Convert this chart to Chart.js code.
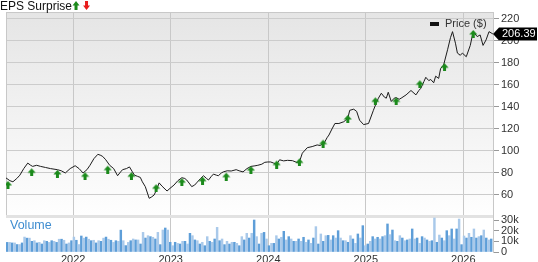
<!DOCTYPE html>
<html>
<head>
<meta charset="utf-8">
<script src="https://cdn.jsdelivr.net/npm/chart.js@4.4.1/dist/chart.umd.min.js"></script>
<style>
  html, body { margin: 0; padding: 0; background: #fff; }
  #wrap { width: 538px; height: 262px; position: relative; }
</style>
</head>
<body>
<div id="wrap"><canvas id="chartPrice"></canvas></div>
<script>
// price line, dates as decimal years
const priceDates = [2021.311, 2021.351, 2021.382, 2021.422, 2021.453, 2021.493, 2021.534, 2021.564, 2021.584, 2021.625,
  2021.665, 2021.716, 2021.767, 2021.838, 2021.878, 2021.919, 2021.969, 2022.020, 2022.060, 2022.101,
  2022.141, 2022.172, 2022.212, 2022.253, 2022.283, 2022.303, 2022.334, 2022.374, 2022.415, 2022.455,
  2022.486, 2022.506, 2022.546, 2022.577, 2022.607, 2022.628, 2022.658, 2022.688, 2022.709, 2022.739,
  2022.779, 2022.800, 2022.830, 2022.860, 2022.881, 2022.911, 2022.962, 2022.992, 2023.033, 2023.073,
  2023.114, 2023.144, 2023.164, 2023.195, 2023.215, 2023.245, 2023.265, 2023.306, 2023.336, 2023.367,
  2023.387, 2023.417, 2023.438, 2023.468, 2023.488, 2023.519, 2023.539, 2023.579, 2023.620, 2023.671,
  2023.701, 2023.741, 2023.782, 2023.822, 2023.863, 2023.893, 2023.934, 2023.964, 2023.995, 2024.025,
  2024.055, 2024.086, 2024.116, 2024.157, 2024.197, 2024.248, 2024.298, 2024.319, 2024.349, 2024.400,
  2024.450, 2024.501, 2024.531, 2024.572, 2024.602, 2024.622, 2024.653, 2024.683, 2024.724, 2024.774,
  2024.815, 2024.835, 2024.876, 2024.906, 2024.936, 2024.977, 2025.028, 2025.078, 2025.109, 2025.129,
  2025.159, 2025.190, 2025.210, 2025.230, 2025.261, 2025.291, 2025.311, 2025.342, 2025.362, 2025.413,
  2025.463, 2025.514, 2025.544, 2025.564, 2025.595, 2025.615, 2025.645, 2025.666, 2025.696, 2025.716,
  2025.747, 2025.767, 2025.797, 2025.838, 2025.868, 2025.889, 2025.919, 2025.939, 2025.969, 2025.990,
  2026.030, 2026.071, 2026.101, 2026.142, 2026.172, 2026.202, 2026.233, 2026.263, 2026.303];
const priceValues = [75.5, 73, 72, 75, 78, 84, 89, 87, 86, 87,
  86, 85, 84, 83, 82, 80, 84, 86.6, 84, 80,
  83, 87, 93, 97, 96, 95, 92, 87, 84, 77.5,
  81, 83, 84, 85.5, 81, 78, 77, 76, 72, 67.6,
  57, 58, 60, 66, 71, 68, 63.6, 66, 69, 73,
  75.7, 75, 73.6, 70, 67.6, 69, 71, 75, 77.5, 75,
  73.6, 77, 79, 78, 77.5, 80, 81, 82, 81.8, 83,
  82, 81, 84, 86, 86.5, 87, 88, 89.7, 90, 90,
  89, 88, 92, 91, 91.5, 91.2, 89.4, 90, 98, 103,
  104, 105.5, 105, 107, 112, 114.5, 120, 125, 125, 126.6,
  129.7, 137, 138, 136, 128, 124, 125, 137, 144, 148,
  152.5, 149, 148, 153.4, 145, 148, 148.5, 147, 148, 151,
  155, 151, 155, 157, 163, 167, 164, 165, 162, 168,
  166, 175, 178, 192, 203, 208.5, 198, 189, 187, 189,
  185.7, 196, 208.5, 204, 205.5, 196, 201, 208.5, 206.39];

// EPS surprise markers (all beats)
const epsDates = [2021.331, 2021.574, 2021.838, 2022.121, 2022.354, 2022.597, 2022.850, 2023.114, 2023.326, 2023.569,
  2023.822, 2024.086, 2024.319, 2024.562, 2024.815, 2025.098, 2025.311, 2025.554, 2025.807, 2026.101];
const epsValues = [75.5, 87, 85.5, 83.4, 89.4, 83.4, 72.5, 78, 79.4, 83,
  89, 94, 96, 113, 135.5, 151.5, 151.5, 167, 182.5, 212.7];

// volume in thousands, evenly spaced bars
const volumeK = [9, 9, 8.5, 8.5, 7, 7, 8.5, 14, 13, 13, 10, 10.6, 8.5, 9, 7.5, 10.6, 10, 9, 10.6, 10,
  9, 12, 12, 11, 7.5, 8.5, 10.6, 14, 11, 7, 15, 13, 14, 12, 10.6, 11, 8.5, 10.6, 10, 13,
  14, 12, 11, 9, 10.6, 10, 20.5, 10.6, 6, 9,
  10.6, 12.2, 11.3, 11.3, 7.5, 18.4, 13.1, 15.3, 14.4, 13.8, 12.2, 18.4, 6.9, 20.6, 22.5, 20.6, 9.1, 5.9, 9.1, 8.1,
  7.5, 10, 10, 7.5, 17.5, 15.3, 11.3, 10.6, 7.5, 9.1, 5.9, 14.4, 10, 9.1, 12.2, 23.1, 10.6, 12.2, 6.9, 10,
  7.5, 9.1, 9.1, 8.1, 5.9, 14.4, 11.3, 17.5, 13.1, 17.5,
  30, 14.4, 7.5, 17.5, 18.4, 12.2, 5.9, 8.1, 8.1, 15.3, 12.2, 13.8, 19.4, 11.3, 14.4, 12.2, 10, 10, 12.2, 10,
  13.8, 9.1, 11.3, 8.1, 13.1, 23.8, 7.5, 16.9, 10, 15.3, 15.6, 11.3, 15.3, 13.1, 20, 13.1, 10.6, 10.6, 9.1, 15.3,
  12.2, 8.1, 16.9, 13.1, 24.7, 5.9, 7.5, 10, 14.4, 12.2,
  13.8, 12.2, 14.4, 15.3, 26.3, 16.3, 20.6, 10.6, 10, 15.3, 13.1, 10.6, 11.3, 12.2, 21.6, 12.2, 13.1, 8.1, 14.4, 13.1,
  11.3, 10, 10.6, 31.9, 9.1, 15.9, 13.1, 10.6, 20, 15.3, 21.6, 12.2, 21.6, 30.9, 6.9, 15, 13.1, 17.5, 13.8, 21.6,
  13.1, 14.4, 15.3, 20.6, 13.1, 11.3, 12.2];
const volStart = 2021.3237;
const volStep = 0.025316;

const yearTicks = [2022, 2023, 2024, 2025, 2026];
const priceTicks = [60, 80, 100, 120, 140, 160, 180, 200, 220];
const volumeTicks = [0, 10, 20, 30];

Chart.defaults.font.family = '"Liberation Sans", Arial, sans-serif';
Chart.defaults.font.size = 11;
Chart.defaults.color = '#333';

function makeArrow(color) {
    const c = document.createElement('canvas');
    c.width = 9; c.height = 22;
    const g = c.getContext('2d');
    g.fillStyle = color;
    g.beginPath();
    g.moveTo(4.5, 14); g.lineTo(8.5, 18.5); g.lineTo(6, 18.5); g.lineTo(6, 22);
    g.lineTo(3, 22); g.lineTo(3, 18.5); g.lineTo(0.5, 18.5);
    g.closePath();
    g.fill();
    return c;
}
const upArrow = makeArrow('#1b8a1b');

function drawTitleArrow(ctx, x, top, color, up) {
    ctx.fillStyle = color;
    ctx.beginPath();
    if (up) {
        ctx.moveTo(x + 3.5, top); ctx.lineTo(x + 7, top + 4.5); ctx.lineTo(x + 5, top + 4.5);
        ctx.lineTo(x + 5, top + 9); ctx.lineTo(x + 2, top + 9); ctx.lineTo(x + 2, top + 4.5); ctx.lineTo(x, top + 4.5);
    } else {
        ctx.moveTo(x + 2, top); ctx.lineTo(x + 5, top); ctx.lineTo(x + 5, top + 4.5); ctx.lineTo(x + 7, top + 4.5);
        ctx.lineTo(x + 3.5, top + 9); ctx.lineTo(x, top + 4.5); ctx.lineTo(x + 2, top + 4.5);
    }
    ctx.closePath();
    ctx.fill();
}

const panels = {
    id: 'panels',
    beforeDraw(chart) {
        const {ctx, chartArea} = chart;
        const y = chart.scales.y;
        const grad = ctx.createLinearGradient(0, y.top, 0, y.bottom);
        grad.addColorStop(0, '#e5e5e5');
        grad.addColorStop(1, '#fefefe');
        ctx.save();
        ctx.fillStyle = grad;
        ctx.fillRect(chartArea.left, y.top, chartArea.right - chartArea.left, y.bottom - y.top);
        ctx.restore();
    },
    beforeDatasetsDraw(chart) {
        const {ctx, chartArea} = chart;
        const yv = chart.scales.yv;
        ctx.save();
        ctx.fillStyle = '#e2e2e2';
        ctx.fillRect(chartArea.left, yv.top, chartArea.right - chartArea.left, 3);
        ctx.strokeStyle = '#c8c8c8';
        ctx.lineWidth = 1;
        ctx.beginPath();
        ctx.moveTo(chartArea.left, chartArea.top + 0.5);
        ctx.lineTo(chartArea.right, chartArea.top + 0.5);
        ctx.moveTo(chartArea.left + 0.5, chartArea.top);
        ctx.lineTo(chartArea.left + 0.5, yv.top);
        ctx.stroke();
        ctx.restore();
    },
    afterDraw(chart) {
        const {ctx, chartArea} = chart;
        const y = chart.scales.y;
        const yv = chart.scales.yv;
        ctx.save();
        // title
        ctx.fillStyle = '#111';
        ctx.font = '12px "Liberation Sans", Arial, sans-serif';
        ctx.textBaseline = 'alphabetic';
        ctx.textAlign = 'left';
        ctx.fillText('EPS Surprise', 0, 10);
        const tw = ctx.measureText('EPS Surprise').width;
        drawTitleArrow(ctx, tw + 0.5, 1, '#1b8a1b', true);
        drawTitleArrow(ctx, tw + 11, 1, '#e81c1c', false);
        // volume label
        ctx.fillStyle = '#3f8dd0';
        ctx.font = '12.5px "Liberation Sans", Arial, sans-serif';
        ctx.fillText('Volume', 10, yv.top + 14);
        // legend
        ctx.fillStyle = '#111';
        ctx.fillRect(chartArea.right - 63, chartArea.top + 10, 9, 4);
        ctx.fillStyle = '#333';
        ctx.font = '11px "Liberation Sans", Arial, sans-serif';
        ctx.textBaseline = 'middle';
        ctx.fillText('Price ($)', chartArea.right - 48, chartArea.top + 12);
        // last price tag
        const last = priceValues[priceValues.length - 1];
        const py = y.getPixelForValue(last);
        ctx.fillStyle = '#000';
        ctx.beginPath();
        ctx.moveTo(chartArea.right, py);
        ctx.lineTo(chartArea.right + 6, py - 6.5);
        ctx.lineTo(chartArea.right + 44, py - 6.5);
        ctx.lineTo(chartArea.right + 44, py + 6.5);
        ctx.lineTo(chartArea.right + 6, py + 6.5);
        ctx.closePath();
        ctx.fill();
        ctx.fillStyle = '#fff';
        ctx.fillText(last.toFixed(2), chartArea.right + 9, py + 0.5);
        ctx.restore();
    }
};

const axisWidth = s => { s.width = 45; };

const ctxPrice = document.getElementById('chartPrice').getContext('2d');
const chartPrice = new Chart(ctxPrice, {
    type: 'line',
    data: {
        datasets: [{
            type: 'scatter',
            label: 'EPS',
            data: epsDates.map((d, i) => ({x: d, y: epsValues[i]})),
            pointStyle: upArrow,
            pointRadius: 5,
            xAxisID: 'x',
            yAxisID: 'y'
        }, {
            label: 'Price ($)',
            data: priceDates.map((d, i) => ({x: d, y: priceValues[i]})),
            borderColor: '#1c1c1c',
            borderWidth: 1,
            pointRadius: 0,
            tension: 0,
            fill: false,
            xAxisID: 'x',
            yAxisID: 'y'
        }, {
            type: 'bar',
            label: 'Volume',
            data: volumeK.map((v, i) => ({x: volStart + i * volStep, y: v})),
            backgroundColor: c => (c.dataIndex % 2 ? '#a9c9ea' : '#5e9ed8'),
            barThickness: 1.8,
            xAxisID: 'x',
            yAxisID: 'yv'
        }]
    },
    plugins: [panels],
    options: {
        responsive: true,
        maintainAspectRatio: false,
        animation: false,
        events: [],
        layout: { padding: { top: 12, left: 0, right: 0, bottom: 0 } },
        plugins: {
            legend: { display: false },
            tooltip: { enabled: false }
        },
        scales: {
            x: {
                type: 'linear',
                min: 2021.311,
                max: 2026.304,
                offset: false,
                afterBuildTicks: s => { s.ticks = yearTicks.map(v => ({value: v})); },
                afterFit: s => { s.height = 10; },
                grid: { color: '#c8c8c8', drawTicks: false, offset: false },
                border: { display: false },
                ticks: { padding: 1, autoSkip: false, maxRotation: 0, callback: v => String(v) }
            },
            y: {
                type: 'linear',
                position: 'right',
                stack: 'right',
                stackWeight: 203,
                min: 41.8,
                max: 226.36,
                afterBuildTicks: s => { s.ticks = priceTicks.map(v => ({value: v})); },
                afterFit: axisWidth,
                grid: { color: '#cccccc', tickColor: '#999', tickLength: 6 },
                border: { display: true, color: '#c8c8c8' },
                ticks: { padding: 2, autoSkip: false }
            },
            yv: {
                type: 'linear',
                position: 'right',
                stack: 'right',
                stackWeight: 37,
                min: 0,
                max: 34.7,
                afterBuildTicks: s => { s.ticks = volumeTicks.map(v => ({value: v})); },
                afterFit: axisWidth,
                grid: { drawOnChartArea: false, tickColor: '#999', tickLength: 6 },
                border: { display: true, color: '#c8c8c8' },
                ticks: { padding: 2, autoSkip: false, callback: v => (v === 0 ? '0' : v + 'k') }
            }
        }
    }
});
</script>
</body>
</html>
